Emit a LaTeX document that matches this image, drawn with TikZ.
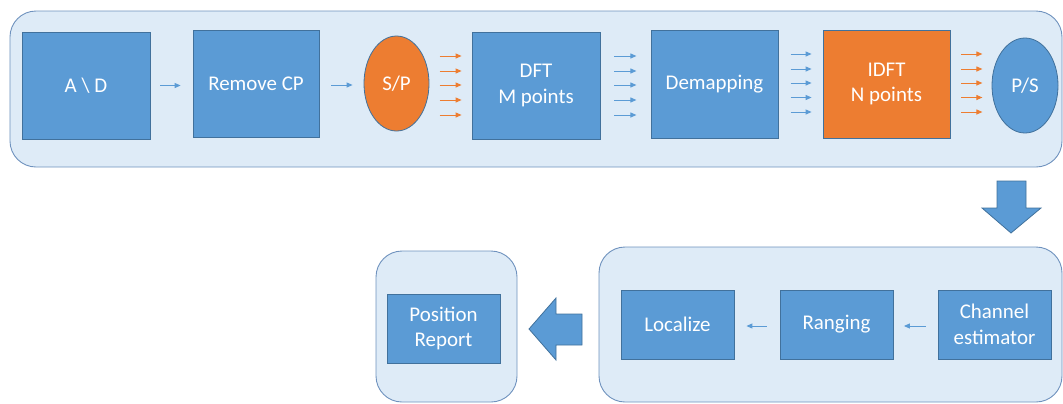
\documentclass[tikz,border=0pt]{standalone}
\usepackage{fontspec}
\setmainfont{Carlito}
\usetikzlibrary{shapes.geometric,calc,arrows.meta}
\definecolor{boxblue}{HTML}{5B9BD5}
\definecolor{boxedge}{HTML}{41719C}
\definecolor{boxorange}{HTML}{ED7D31}
\definecolor{panelfill}{HTML}{DEEBF7}
\definecolor{paneledge}{HTML}{6F92BE}
\tikzset{
  block/.style={draw=boxedge, fill=boxblue, line width=0.8bp, text=white,
    inner sep=0, align=center, font=\fontsize{21}{25.5}\selectfont},
  bigblock/.style={block, minimum width=127bp, minimum height=107bp},
  smallblock/.style={block, minimum width=113bp, minimum height=69bp},
  hot/.style={fill=boxorange},
  oval/.style={block, ellipse, minimum width=65bp, minimum height=95bp},
  panel/.style={draw=paneledge, fill=panelfill, line width=0.9bp,
    rounded corners=26bp, inner sep=0},
  flow/.style={draw=boxblue, line width=1bp, -{Triangle[length=6bp,width=5bp]}},
  hotflow/.style={flow, draw=boxorange},
  bigarrow/.style={draw=boxedge, fill=boxblue, line width=0.8bp},
}
\begin{document}
\begin{tikzpicture}[x=1bp, y=-1bp]
\useasboundingbox (0,0) rectangle (1063,403);

% background panels
\node[panel, minimum width=1052bp, minimum height=156bp] (rx) at (536,89) {};
\node[panel, minimum width=463bp, minimum height=155bp] (est) at (830.5,324.5) {};
\node[panel, minimum width=141bp, minimum height=151bp] (out) at (446.5,326.5) {};

% receiver chain
\node[bigblock, minimum width=128bp] (ad) at (86,85.5) {A \textbackslash{} D};
\node[bigblock, minimum width=126bp] (rcp) at (256,83.5) {Remove CP};
\node[oval, hot] (sp) at (396.5,83.5) {S/P};
\node[bigblock, minimum width=128bp] (dft) at (536,85.5) {DFT\\M points};
\node[bigblock, minimum height=108bp] (dem) at (714.5,84) {Demapping};
\node[bigblock, hot, minimum height=108bp] (idft) at (886.5,84) {IDFT\\N points};
\node[oval, minimum width=66bp] (ps) at (1025,85.5) {P/S};

\draw[flow, shorten <=10bp, shorten >=12bp] (ad.east) -- (ad.east -| rcp.west);
\draw[flow, shorten <=12bp, shorten >=11bp] ($(rcp.east)+(0,1.5)$) -- ($(rcp.east -| sp.west)+(0,1.5)$);
\foreach \d in {-29.5,-14.5,-0.5,14.5,29.5}{
  \draw[hotflow] ($(dft.west)+(-32,\d)$) -- ($(dft.west)+(-10,\d)$);
  \draw[flow] ($(dft.east)+(14,\d)$) -- ($(dft.east)+(36,\d)$);
}
\foreach \d in {-30,-15,-1,13.5,28}{
  \draw[flow] ($(idft.west)+(-32,\d)$) -- ($(idft.west)+(-11,\d)$);
  \draw[hotflow] ($(idft.east)+(11,\d)$) -- ($(idft.east)+(32,\d)$);
}

% estimation chain
\node[smallblock] (ch) at (994.5,324.5) {Channel\\estimator};
\node[smallblock] (rng) at (836.5,324.5) {Ranging};
\node[smallblock] (loc) at (677.5,324.5) {Localize};
\node[smallblock] (pr) at (443.5,328.5) {Position\\Report};

\draw[flow, shorten <=12bp, shorten >=10.5bp] ($(ch.west)+(0,1.5)$) -- ($(ch.west -| rng.east)+(0,1.5)$);
\draw[flow, shorten <=13bp, shorten >=12bp] ($(rng.west)+(0,1.5)$) -- ($(rng.west -| loc.east)+(0,1.5)$);

% block arrows between the stages
\draw[bigarrow] (997,181) -- (1026,181) -- (1026,208) -- (1041,208)
  -- (1011,233) -- (982,208) -- (997,208) -- cycle;
\draw[bigarrow] (582,314) -- (556,314) -- (556,298) -- (529,329)
  -- (556,360) -- (556,345) -- (582,345) -- cycle;
\end{tikzpicture}
\end{document}
